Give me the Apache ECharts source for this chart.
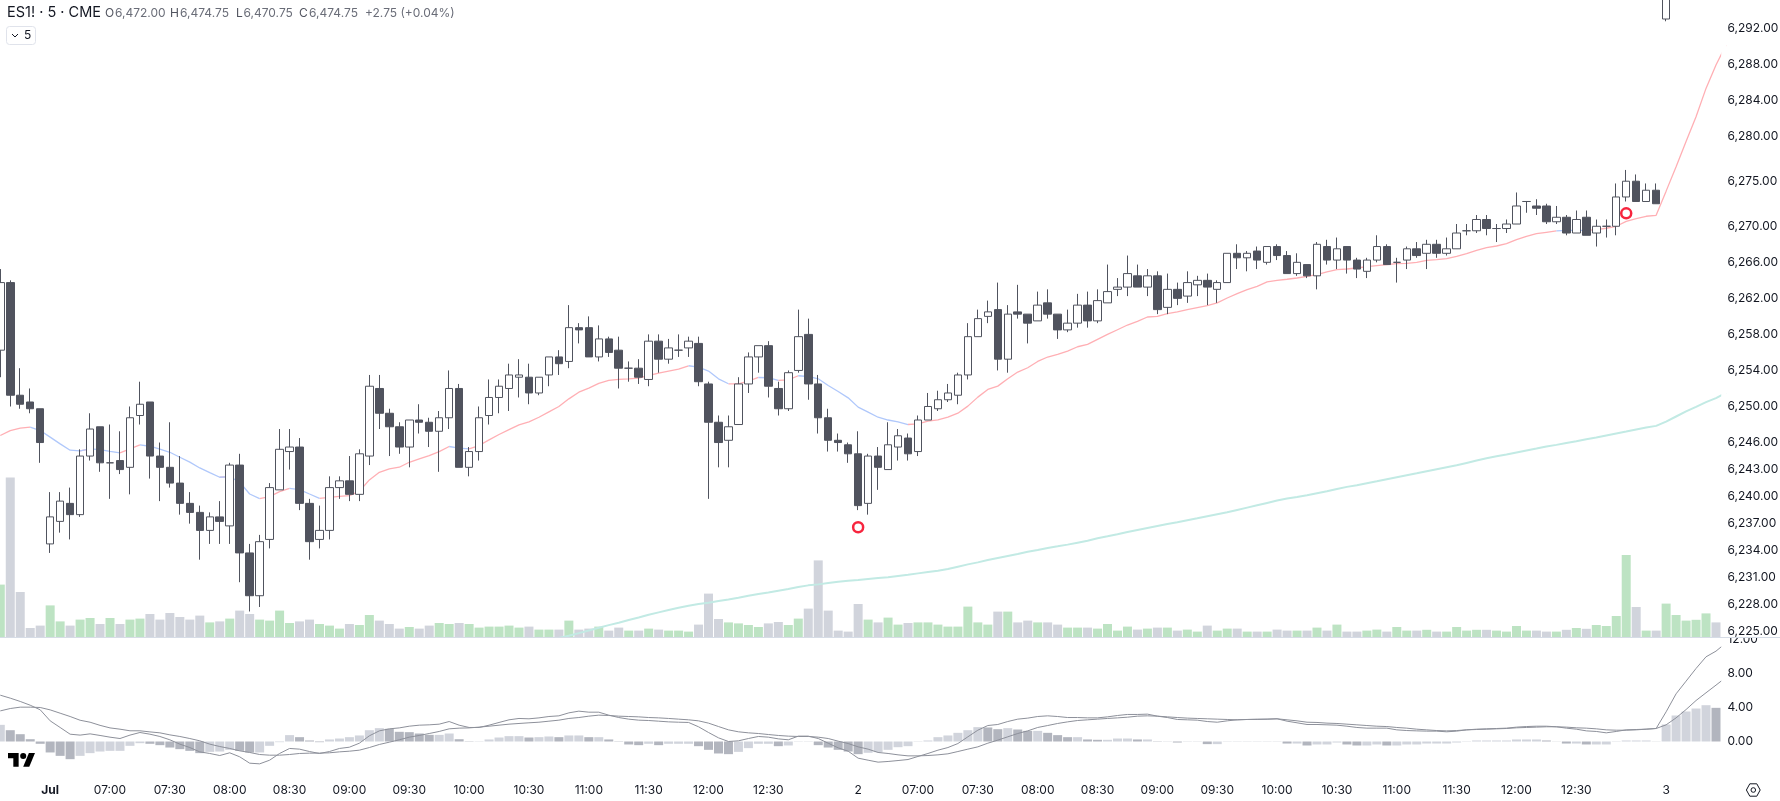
<!DOCTYPE html>
<html><head><meta charset="utf-8"><title>ES1! 5</title>
<style>html,body{margin:0;padding:0;background:#fff}#c{width:1780px;height:801px}</style>
<script src="https://cdn.jsdelivr.net/npm/echarts@6/dist/echarts.min.js"></script></head>
<body><div id="c"></div>
<script>
const opens=[6256.25,6263.75,6251.25,6250.5,6249.75,6234.75,6237.25,6239.25,6238,6244.5,6247.75,6243.75,6244,6243.25,6249,6250.5,6244.5,6243.25,6241.5,6239.25,6238.25,6236.25,6237.75,6236.75,6243.5,6233.75,6229,6235.25,6240.75,6245,6245.5,6239.25,6235.25,6236.25,6241,6241.75,6240.25,6244.5,6252,6249.25,6247.75,6245.5,6248.5,6248.25,6247.25,6248.75,6252,6243.25,6245,6249,6251,6252,6253.25,6253.25,6251.5,6253.5,6255.5,6255,6258.75,6258.75,6255.5,6257.5,6256.25,6254.25,6254.25,6253,6257.25,6255.25,6256.25,6256.5,6257,6252.5,6248.25,6246.25,6248,6252.5,6255.5,6256.75,6252,6249.75,6254,6258,6252.5,6248.75,6246.25,6245.75,6244.75,6239.25,6244.5,6243,6245.5,6246.5,6245,6248.5,6249.75,6250.75,6251.25,6253.5,6257.75,6260,6260.75,6255.25,6260.5,6260.25,6259.5,6261.5,6260.25,6258.5,6259.25,6261.25,6259.5,6261.5,6263,6263.25,6264.5,6263.25,6264.5,6261,6263,6262.25,6263.5,6264,6263,6263.75,6267,6266.5,6267.25,6266,6267.75,6266.75,6264.75,6265.75,6264.5,6267.75,6266.25,6267.75,6266.25,6265,6266.25,6267.75,6266,6266.25,6267.5,6267,6268,6267,6267.5,6269.5,6269.5,6270.75,6269.75,6269.75,6270.25,6272.75,6272.25,6272.25,6270.5,6271,6269.25,6271,6269.25,6270,6270,6273.25,6275,6272.75,6274,6293,6308,6313,6316,6319,6324];
const highs=[6265.25,6264,6254.25,6252,6249.75,6240.5,6240.5,6241,6245.25,6249.25,6247.75,6248,6247.25,6250,6252.75,6250.5,6246,6248.25,6244.5,6240.5,6239,6238.25,6239.5,6243.75,6244.75,6234.75,6235.75,6241.5,6247.5,6247.5,6246.5,6239.75,6239,6242.25,6242.25,6244.5,6245.25,6253.5,6253.5,6249.75,6248.25,6248.5,6250.25,6248.75,6249.5,6254,6252.5,6245.5,6250,6253,6253,6254.75,6255.25,6254.75,6253.25,6255.5,6256.25,6261.25,6259.25,6260,6259,6257.75,6257.75,6255,6255.25,6258,6258,6257.5,6258,6257.75,6257.75,6252.75,6249,6249,6253.25,6256,6256.75,6257.25,6252.75,6254,6260.75,6259.75,6253.5,6249.75,6247,6246,6247.25,6244.75,6245.5,6248.25,6247.5,6247,6249,6251.5,6251.75,6252.5,6253.75,6259.25,6260.75,6261.75,6263.75,6261.25,6263.5,6260.25,6262.75,6263,6260.25,6260.75,6262.5,6262.75,6263,6265.75,6264.25,6266.75,6265.75,6265.25,6265,6264.75,6263.75,6265,6264.5,6264.75,6264,6267,6268,6267.25,6267.75,6267.75,6268,6267.25,6267,6265.75,6268.25,6268.5,6268.75,6267.75,6266.5,6266.5,6269,6268,6266.5,6267.75,6268.25,6268.5,6268.5,6268.75,6270.25,6270.25,6271.25,6271.25,6270.25,6270.75,6273.75,6272.75,6273,6272.5,6272.25,6271.25,6271.75,6271.75,6270.75,6270.75,6274.75,6276.25,6275.75,6274.75,6274.75,6310,6315,6318,6321,6326,6326];
const lows=[6253.25,6250,6249.75,6249.25,6243.75,6233.75,6236,6235.25,6237.75,6244,6242.75,6239.75,6242.5,6240.25,6248,6242,6239.5,6241,6238,6237,6233,6234.75,6234.75,6234.75,6230.5,6227.25,6227.75,6234.25,6240.75,6243,6238.5,6233,6234.25,6235.25,6239.75,6239.5,6239.5,6243.5,6247.5,6244.5,6244.75,6243.25,6247,6245.5,6242.75,6247.5,6243.25,6242.25,6244,6248,6249.25,6249.5,6251,6250.25,6251.25,6252.25,6253.5,6254.25,6257,6255.5,6255,6255.5,6252,6252.75,6252.5,6252.25,6253.75,6254.75,6255.5,6255.5,6252.25,6239.75,6243.25,6243.25,6248,6251.5,6253.75,6251,6249,6249.5,6253.75,6250.75,6247,6245,6245,6243.75,6238.5,6238,6240.75,6243,6244,6244,6244.5,6248.5,6249.5,6250.5,6250.25,6253,6257.75,6259.25,6254,6253.75,6259.75,6257,6259.5,6259.75,6257.5,6258.25,6258.75,6258.75,6259.25,6261.5,6262.25,6262.25,6263.25,6262.25,6260.25,6260.25,6261.25,6261.5,6262.25,6261.25,6261.5,6263.75,6265.25,6265,6265.25,6265.75,6266.25,6264.75,6264.5,6264.25,6263,6265.75,6265.25,6264.75,6264.25,6264.25,6266,6265.75,6263.75,6265.25,6266.5,6265.25,6266.5,6266.75,6267.5,6269,6269.25,6269,6268.25,6269.25,6270.25,6271.5,6271.25,6270.25,6270.25,6269,6269.25,6269,6267.75,6268.75,6269,6272.75,6272.75,6272.75,6272.5,6292.75,6306,6311,6314,6317,6320];
const closes=[6263.75,6251.25,6250.25,6249.75,6246,6237.75,6239.5,6238,6244.5,6247.5,6243.75,6243.75,6243,6248.75,6250.25,6244.5,6243.25,6241.5,6239.25,6238.25,6236.25,6237.75,6237.25,6243.5,6233.75,6229,6235,6241,6245.25,6245.5,6239.25,6235,6236.25,6241,6241.75,6240.25,6244.75,6252.25,6249.25,6247.75,6245.5,6248.5,6248.25,6247.25,6248.75,6252,6243.25,6245,6248.75,6251,6252.25,6253.5,6253.5,6251.5,6253.25,6255.5,6254.75,6258.75,6258.5,6255.5,6257.5,6256,6254.25,6254.25,6253.25,6257.25,6255.25,6256.5,6256.25,6257.25,6252.75,6248.25,6246,6247.75,6252.5,6255.5,6256.75,6252.25,6249.75,6253.75,6257.75,6252.5,6248.75,6246.25,6246,6244.75,6239,6244.5,6243.25,6245.75,6246.75,6244.75,6248.5,6250,6250.75,6251.5,6253.5,6257.75,6259.75,6260.5,6255.25,6260.25,6260.25,6259.25,6261.25,6260.25,6258.5,6259.25,6261.25,6259.5,6261.75,6262.75,6263.25,6264.75,6263.25,6264.5,6260.75,6263,6262,6263.75,6264,6263.25,6263.75,6267,6266.5,6267,6266.25,6267.75,6266.75,6264.75,6266,6264.5,6268,6266.25,6267.5,6266.25,6265.25,6266.25,6267.75,6265.75,6266,6267.5,6266.75,6268,6267,6267.5,6269.25,6269.5,6270.75,6269.75,6269.75,6270.25,6272.25,6272.75,6272,6270.5,6271,6269.25,6270.75,6269,6270,6270,6273.25,6275,6272.75,6274,6272.5,6308,6313,6316,6319,6324,6322];
const volumes=[2620,7980,2250,450,570,1580,780,570,870,950,650,950,650,870,920,1150,870,1200,1000,870,1070,730,780,920,1320,1150,870,820,1320,700,780,870,650,570,420,650,600,1100,820,650,420,500,420,570,700,650,700,650,470,520,520,570,470,520,370,370,370,820,370,420,520,320,470,320,320,420,370,320,320,270,620,2170,900,730,680,600,500,680,750,600,920,1420,3830,1320,320,270,1650,870,730,970,620,700,730,730,620,520,520,1520,730,620,1270,1270,730,820,730,730,620,470,470,470,420,650,320,520,370,420,470,470,320,370,270,570,320,420,420,270,270,270,370,320,320,320,470,320,620,270,270,320,370,270,500,320,320,360,270,270,500,320,360,360,320,270,550,320,320,270,270,360,450,410,600,550,1050,4100,1500,320,320,1670,1100,820,860,1180,730];
const emaFast=[6246.78,6247.33,6247.59,6247.7,6247.33,6246.6,6245.85,6245.15,6245.07,6245.3,6245.22,6245.03,6244.85,6245.3,6245.74,6245.59,6245.26,6244.92,6244.37,6243.82,6243.18,6242.66,6242.15,6242.22,6241.59,6240.29,6239.78,6240,6240.55,6240.92,6240.78,6240.29,6239.81,6239.92,6240.03,6240.11,6240.59,6241.85,6242.7,6243.07,6243.26,6243.81,6244.18,6244.55,6245,6245.56,6245.37,6245.3,6245.67,6246.3,6246.89,6247.44,6247.96,6248.3,6248.81,6249.41,6250,6250.85,6251.59,6252.04,6252.56,6252.89,6253,6253.07,6253.15,6253.44,6253.7,6253.93,6254.15,6254.52,6254.37,6253.93,6253.07,6252.52,6252.52,6252.81,6253.22,6253.19,6252.89,6252.96,6253.41,6253.33,6253.07,6252.33,6251.67,6250.96,6249.93,6249.37,6248.81,6248.5,6248.3,6248,6248.08,6248.37,6248.52,6248.82,6249.26,6250.04,6251.04,6251.89,6252.26,6253.08,6253.82,6254.3,6255,6255.49,6255.78,6256.15,6256.63,6256.89,6257.45,6258,6258.52,6259.04,6259.45,6259.93,6260,6260.3,6260.49,6260.75,6260.97,6261.19,6261.49,6262.04,6262.52,6262.97,6263.34,6263.82,6264,6264.12,6264.26,6264.45,6264.63,6264.93,6265.18,6265.26,6265.37,6265.52,6265.63,6265.74,6265.85,6265.89,6266,6266.22,6266.3,6266.41,6266.67,6266.96,6267.33,6267.63,6267.81,6268.07,6268.52,6268.89,6269.18,6269.33,6269.48,6269.55,6269.55,6269.55,6269.63,6269.78,6270,6270.55,6270.85,6271.11,6271.22,6273.9,6276.6,6279.4,6282.15,6285.3,6287.9,6290.1];
const emaFallRanges=[[3,8],[9,12],[14,22],[23,26],[29,32],[45,47],[69,73],[76,78],[80,91],[156,159]];
const emaSlow=[null,null,null,null,null,null,null,null,null,null,null,null,null,null,null,null,null,null,null,null,null,null,null,null,null,null,null,null,null,null,null,null,null,null,null,null,null,null,null,null,null,null,null,null,null,null,null,null,null,null,null,null,null,null,null,null,6224.3,6224.56,6224.85,6225.15,6225.44,6225.74,6226,6226.3,6226.59,6226.89,6227.15,6227.41,6227.67,6227.89,6228.07,6228.22,6228.41,6228.59,6228.78,6229,6229.19,6229.37,6229.56,6229.74,6229.96,6230.15,6230.26,6230.41,6230.56,6230.67,6230.74,6230.85,6230.96,6231.04,6231.19,6231.33,6231.48,6231.63,6231.78,6231.96,6232.22,6232.48,6232.7,6232.96,6233.19,6233.41,6233.63,6233.89,6234.08,6234.3,6234.48,6234.67,6234.89,6235.11,6235.37,6235.59,6235.82,6236.08,6236.3,6236.52,6236.74,6236.96,6237.15,6237.37,6237.59,6237.82,6238.04,6238.26,6238.52,6238.78,6239.04,6239.3,6239.56,6239.78,6239.96,6240.15,6240.37,6240.59,6240.85,6241.08,6241.26,6241.48,6241.7,6241.93,6242.15,6242.37,6242.59,6242.82,6243.04,6243.26,6243.48,6243.74,6244,6244.26,6244.48,6244.67,6244.89,6245.11,6245.33,6245.56,6245.74,6245.96,6246.15,6246.37,6246.56,6246.78,6247,6247.22,6247.45,6247.67,6247.85,6248.33,6248.89,6249.45,6249.96,6250.48,6250.93,6251.5];
const macdHist=[1.96,1.33,0.86,0.27,-0.27,-1.29,-1.69,-2.08,-1.69,-1.37,-1.18,-1.1,-1.1,-0.51,-0.2,-0.27,-0.43,-0.71,-0.9,-1.1,-1.37,-1.22,-1.18,-0.98,-1.1,-1.29,-1.29,-0.51,-0.08,0.75,0.51,0.12,-0.08,0.24,0.35,0.51,0.71,1.33,1.57,1.49,1.14,1.1,0.94,0.78,0.78,0.94,0.27,0.04,0.04,0.24,0.47,0.63,0.63,0.47,0.51,0.59,0.51,0.71,0.71,0.51,0.51,0.24,-0.04,-0.35,-0.43,-0.27,-0.43,-0.27,-0.27,-0.27,-0.55,-0.98,-1.41,-1.49,-1.22,-0.78,-0.27,-0.27,-0.55,-0.47,-0.04,-0.04,-0.43,-0.71,-0.98,-1.18,-1.49,-1.33,-1.25,-0.98,-0.67,-0.55,-0.04,0.12,0.51,0.71,1.02,1.33,1.69,1.65,1.45,1.57,1.41,1.25,1.25,1.02,0.75,0.51,0.51,0.24,0.2,0.2,0.35,0.35,0.24,0.24,-0.04,-0.04,-0.12,-0.04,-0.04,-0.31,-0.31,-0.04,-0.04,-0.04,-0.04,-0.04,-0.04,-0.24,-0.24,-0.47,-0.35,-0.35,-0.12,-0.35,-0.47,-0.47,-0.35,-0.47,-0.47,-0.35,-0.35,-0.24,-0.24,-0.24,-0.12,0.04,0.12,0.12,0.12,0.12,0.24,0.24,0.24,0.12,0.02,-0.24,-0.24,-0.35,-0.35,-0.35,-0.04,0.12,0.12,0.12,0.02,2,3.06,3.53,3.88,4.27,3.96];
const macdLine=[5.45,5.1,4.71,4.27,3.73,2.43,1.65,0.86,0.75,0.9,0.71,0.51,0.35,0.75,1.06,0.86,0.59,0.2,-0.31,-0.71,-1.22,-1.41,-1.65,-1.33,-1.8,-2.55,-2.63,-2.2,-1.41,-0.82,-0.9,-1.18,-1.41,-1.18,-0.82,-0.67,-0.2,0.67,1.25,1.49,1.6,1.8,1.92,1.96,2.04,2.35,1.92,1.65,1.65,1.92,2.24,2.55,2.71,2.67,2.78,2.94,3.02,3.37,3.57,3.45,3.45,3.1,2.82,2.63,2.51,2.47,2.39,2.31,2.27,2.24,1.73,1.06,0.43,0,0.08,0.35,0.59,0.51,0.31,0.2,0.63,0.63,0.35,-0.2,-0.75,-1.14,-1.96,-2.2,-2.43,-2.35,-2.24,-2.12,-1.76,-1.41,-1.02,-0.71,-0.24,0.55,1.33,1.88,2,2.35,2.63,2.75,2.94,3.02,2.94,2.82,2.82,2.78,2.78,2.9,3.06,3.18,3.18,3.22,2.98,2.82,2.59,2.55,2.51,2.35,2.27,2.43,2.55,2.59,2.59,2.63,2.67,2.39,2.2,2,2,1.96,1.92,1.8,1.65,1.57,1.57,1.57,1.37,1.29,1.25,1.22,1.22,1.14,1.22,1.37,1.45,1.49,1.53,1.57,1.69,1.76,1.8,1.8,1.73,1.57,1.45,1.25,1.18,1.02,1.18,1.37,1.41,1.45,1.53,3.49,5.61,7.1,8.59,9.96,10.63,11.6];
const signalLine=[3.6,3.88,4.04,4.04,4,3.72,3.33,2.94,2.5,2.27,1.9,1.6,1.45,1.26,1.26,1.13,1.02,0.78,0.59,0.35,0.08,-0.31,-0.59,-0.82,-1.1,-1.29,-1.53,-1.61,-1.61,-1.53,-1.41,-1.37,-1.37,-1.33,-1.22,-1.14,-1.02,-0.71,-0.35,-0.08,0.2,0.51,0.71,0.94,1.18,1.49,1.57,1.6,1.69,1.8,1.92,2.04,2.12,2.2,2.27,2.39,2.51,2.71,2.82,2.98,3.1,3.06,2.98,2.94,2.9,2.82,2.78,2.71,2.63,2.55,2.43,2.16,1.76,1.37,1.14,1.02,0.94,0.82,0.71,0.63,0.59,0.59,0.51,0.35,0.04,-0.24,-0.63,-0.9,-1.29,-1.41,-1.57,-1.69,-1.69,-1.65,-1.57,-1.45,-1.18,-0.9,-0.63,-0.2,0.16,0.55,0.94,1.25,1.65,1.88,2.12,2.31,2.47,2.55,2.63,2.71,2.78,2.86,2.98,3.02,2.98,2.9,2.82,2.75,2.71,2.67,2.63,2.59,2.55,2.59,2.63,2.63,2.67,2.55,2.43,2.27,2.24,2.16,2.12,2.04,1.96,1.88,1.8,1.76,1.65,1.57,1.45,1.37,1.29,1.25,1.29,1.37,1.41,1.45,1.49,1.53,1.61,1.65,1.69,1.73,1.73,1.69,1.61,1.57,1.49,1.37,1.33,1.33,1.37,1.45,1.53,1.96,2.78,3.76,4.82,5.73,6.63,7.55];
const priceTicks=[6292,6288,6284,6280,6275,6270,6266,6262,6258,6254,6250,6246,6243,6240,6237,6234,6231,6228,6225];
const macdTicks=[0,4,8,12];
const timeTickIndex=[5,11,17,23,29,35,41,47,53,59,65,71,77,86,92,98,104,110,116,122,128,134,140,146,152,158,167];
const timeTickLabels=['Jul','07:00','07:30','08:00','08:30','09:00','09:30','10:00','10:30','11:00','11:30','12:00','12:30','2','07:00','07:30','08:00','08:30','09:00','09:30','10:00','10:30','11:00','11:30','12:00','12:30','3'];
const signalMarks=[[86,6236.6],[163,6271.44]];

const categories=emaFast.map((_,i)=>{const k=timeTickIndex.indexOf(i);return k<0?'':timeTickLabels[k];});
const inFall=(i)=>emaFallRanges.some(([a,b])=>i>a&&i<b);
const inFallEdge=(i)=>emaFallRanges.some(([a,b])=>i>=a&&i<=b);
const emaRed=emaFast.map((v,i)=>inFall(i)?null:v);
const emaBlue=emaFast.map((v,i)=>inFallEdge(i)?v:null);
const FONT='Inter, "Noto Sans", sans-serif';
const GREEN='#bde3c3',GRAY='#d1d4dc',DARKBAR='#b2b5be',CANDLE='#50535e';
const volData=volumes.map((v,i)=>({value:v,itemStyle:{color:closes[i]>=opens[i]?GREEN:GRAY}}));
const histData=macdHist.map((v,i)=>({value:v,itemStyle:{color:(i===0||v>=macdHist[i-1])?GRAY:DARKBAR}}));
const candleData=opens.map((o,i)=>[o,closes[i],lows[i],highs[i]]);
const bandW=9.975,gridLeft=-4.7,gridW=bandW*categories.length;
const fmtPrice=v=>Number(v).toLocaleString('en-US',{minimumFractionDigits:2,maximumFractionDigits:2});

const chart=echarts.init(document.getElementById('c'),null,{renderer:'canvas'});
const hdr=(x,t,color,size)=>({type:'text',x:x,y:13,z:20,style:{text:t,fill:color,font:`${size||12}px ${FONT}`,verticalAlign:'middle'}});
chart.setOption({
 animation:false,backgroundColor:'#ffffff',
 grid:[{left:gridLeft,width:gridW,top:0,height:637,containLabel:false,outerBoundsMode:'none'},{left:gridLeft,width:gridW,top:637,height:142,containLabel:false,outerBoundsMode:'none'}],
 xAxis:[
  {type:'category',gridIndex:0,data:categories,boundaryGap:true,axisLine:{show:false},axisTick:{show:false},axisLabel:{show:false},splitLine:{show:false}},
  {type:'category',gridIndex:1,data:categories,boundaryGap:true,axisLine:{show:false},axisTick:{show:false},splitLine:{show:false},
   axisLabel:{show:true,interval:0,margin:5,fontFamily:FONT,fontSize:12,color:'#131722',hideOverlap:false,
    formatter:(v)=>(v==='Jul')?'{b|Jul}':v,rich:{b:{fontFamily:FONT,fontSize:12,fontWeight:700,color:'#131722'}}}}
 ],
 yAxis:[
  {type:'value',gridIndex:0,position:'right',min:6224.42,max:6295.11,z:3,axisLine:{show:false},axisTick:{show:false},splitLine:{show:false},
   axisLabel:{margin:-3.5,customValues:priceTicks,formatter:fmtPrice,fontFamily:FONT,fontSize:12,color:'#131722'}},
  {type:'value',gridIndex:0,show:false,min:0,max:31850,splitLine:{show:false}},
  {type:'value',gridIndex:1,position:'right',min:-4.412,max:12.294,z:0,axisLine:{show:false},axisTick:{show:false},splitLine:{show:false},
   axisLabel:{margin:-3.5,customValues:macdTicks,formatter:v=>Number(v).toFixed(2),fontFamily:FONT,fontSize:12,color:'#131722'}}
 ],
 series:[
  {name:'Volume',type:'bar',xAxisIndex:0,yAxisIndex:1,data:volData,barWidth:9,z:1},
  {name:'EMA slow',type:'line',xAxisIndex:0,yAxisIndex:0,data:emaSlow,showSymbol:false,symbol:'none',lineStyle:{color:'#c2eae4',width:2},z:2},
  {name:'EMA rising',type:'line',xAxisIndex:0,yAxisIndex:0,data:emaRed,showSymbol:false,symbol:'none',lineStyle:{color:'#ffafb4',width:1.3},z:2},
  {name:'EMA falling',type:'line',xAxisIndex:0,yAxisIndex:0,data:emaBlue,showSymbol:false,symbol:'none',lineStyle:{color:'#b0c8fb',width:1.3},z:2},
  {name:'Price',type:'candlestick',xAxisIndex:0,yAxisIndex:0,data:candleData,barWidth:8,z:3,clip:true,
   itemStyle:{color:'#ffffff',color0:CANDLE,borderColor:CANDLE,borderColor0:CANDLE,borderWidth:1}},
  {name:'Signals',type:'scatter',xAxisIndex:0,yAxisIndex:0,data:signalMarks,symbol:'circle',symbolSize:10,z:5,
   itemStyle:{color:'#ffffff',borderColor:'#f7253e',borderWidth:2.5,opacity:1}},
  {name:'Hist',type:'bar',xAxisIndex:1,yAxisIndex:2,data:histData,barWidth:9,z:1},
  {name:'MACD',type:'line',xAxisIndex:1,yAxisIndex:2,data:macdLine,showSymbol:false,symbol:'none',lineStyle:{color:'#8d909a',width:1},z:2},
  {name:'Signal',type:'line',xAxisIndex:1,yAxisIndex:2,data:signalLine,showSymbol:false,symbol:'none',lineStyle:{color:'#8d909a',width:1},z:2}
 ],
 graphic:[
  {type:'rect',z:2,shape:{x:1722,y:622,width:58,height:15.5},style:{fill:'#ffffff'}},
  {type:'rect',z:6,shape:{x:1721.2,y:0,width:5.3,height:779},style:{fill:'#ffffff'}},
  {type:'line',z:7,shape:{x1:0,y1:637.5,x2:1780,y2:637.5},style:{stroke:'#d6dce6',lineWidth:1}},
  hdr(7,'ES1! · 5 · CME','#131722',14.5),
  hdr(105,'O','#50535e'),hdr(115,'6,472.00','#6a6d78'),
  hdr(170,'H','#50535e'),hdr(180,'6,474.75','#6a6d78'),
  hdr(236,'L','#50535e'),hdr(243.5,'6,470.75','#6a6d78'),
  hdr(299,'C','#50535e'),hdr(309,'6,474.75','#6a6d78'),
  hdr(365,'+2.75 (+0.04%)','#6a6d78'),
  {type:'rect',z:20,shape:{x:6.5,y:26.5,width:29,height:18,r:3},style:{fill:'#fff',stroke:'#e0e3eb',lineWidth:1}},
  {type:'polyline',z:21,shape:{points:[[12,34],[15,37],[18,34]]},style:{stroke:'#131722',lineWidth:1,fill:null}},
  {type:'text',z:21,x:24,y:35.5,style:{text:'5',fill:'#131722',font:`12px ${FONT}`,verticalAlign:'middle'}},
  {type:'group',z:20,x:8,y:750,scaleX:0.76,scaleY:0.76,children:[
    {type:'polygon',z:20,shape:{points:[[14,22],[7,22],[7,11],[0,11],[0,4],[14,4]]},style:{fill:'#000'}},
    {type:'polygon',z:20,shape:{points:[[28,22],[20,22],[27.5,4],[35.5,4]]},style:{fill:'#000'}},
    {type:'circle',z:20,shape:{cx:20,cy:8,r:4},style:{fill:'#000'}}]},
  {type:'polygon',z:20,shape:{points:[[1749.8,783.8],[1756.8,783.8],[1760.2,790],[1756.8,796.2],[1749.8,796.2],[1746.4,790]]},style:{fill:'none',stroke:'#131722',lineWidth:1}},
  {type:'circle',z:20,shape:{cx:1753.3,cy:790,r:2.3},style:{fill:'none',stroke:'#131722',lineWidth:1}}
 ]
});
</script></body></html>
